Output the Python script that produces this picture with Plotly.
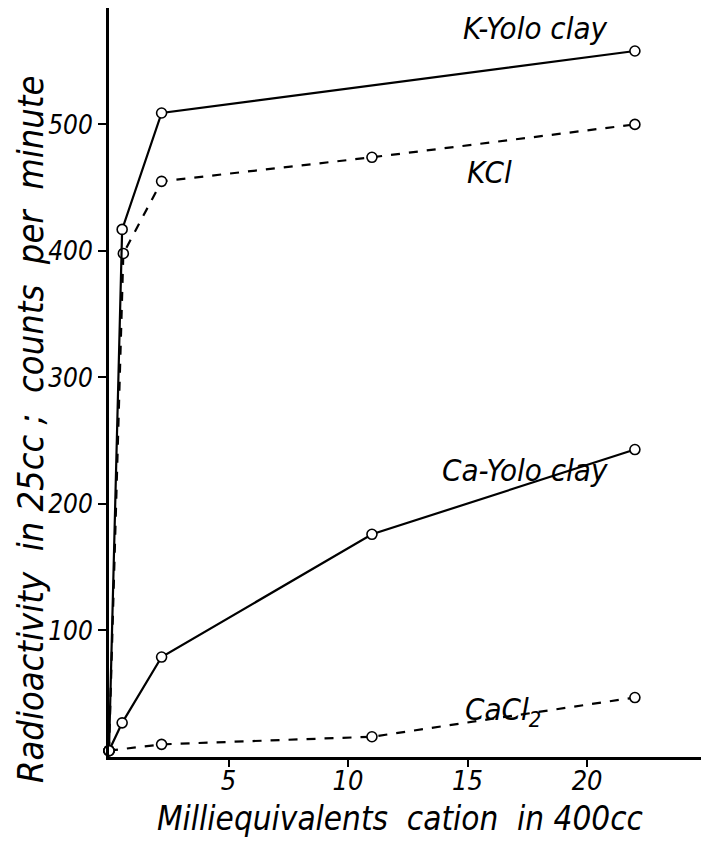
import plotly.graph_objects as go

# Data
x_k_yolo = [0, 0.55, 2.2, 22]
y_k_yolo = [5, 417, 509, 558]

x_kcl = [0, 0.6, 2.2, 11, 22]
y_kcl = [5, 398, 455, 474, 500]

x_ca_yolo = [0, 0.55, 2.2, 11, 22]
y_ca_yolo = [5, 27, 79, 176, 243]

x_cacl2 = [0, 2.2, 11, 22]
y_cacl2 = [5, 10, 16, 47]

x_ticks = [5, 10, 15, 20]
y_ticks = [100, 200, 300, 400, 500]

FONT = "DejaVu Sans Condensed"

fig = go.Figure()

marker = dict(symbol="circle", size=10, color="white",
              line=dict(color="black", width=1.6))

series = [
    (x_cacl2, y_cacl2, "dash"),
    (x_ca_yolo, y_ca_yolo, "solid"),
    (x_kcl, y_kcl, "dash"),
    (x_k_yolo, y_k_yolo, "solid"),
]
for xs, ys, dash in series:
    fig.add_trace(go.Scatter(
        x=xs, y=ys, mode="lines+markers",
        line=dict(color="black", width=2.2, dash=dash),
        marker=marker, cliponaxis=False, showlegend=False))

labels = [
    (17.8, 576, "K-Yolo clay"),
    (15.9, 462, "KCl"),
    (17.4, 227, "Ca-Yolo clay"),
    (16.5, 36, "CaCl<sub>2</sub>"),
]
for x, y, t in labels:
    fig.add_annotation(x=x, y=y, text=t, showarrow=False,
                       xanchor="center", yanchor="middle",
                       font=dict(family=FONT, size=31, color="black", style="italic"))

# the page puts the figure 8px in from the top-left corner
OFF = 8
W, H = 716, 842 - OFF
L, R, T, B = 109 - OFF, 0, 0, 842 - 757
pw, ph = W - L - R, H - T - B
X_MAX = 25.1 * pw / 600


def px(gx, gy):
    # page-pixel position -> paper coordinates
    return (gx - OFF - L) / pw, (H - B - (gy - OFF)) / ph


tx, ty = px(400, 818)
fig.add_annotation(xref="paper", yref="paper", x=tx, y=ty,
                   text="Milliequivalents  cation  in 400cc", showarrow=False,
                   xanchor="center", yanchor="middle",
                   font=dict(family=FONT, size=33, color="black", style="italic"))
tx, ty = px(30, 430)
fig.add_annotation(xref="paper", yref="paper", x=tx, y=ty,
                   text="Radioactivity  in 25cc ;  counts  per  minute", showarrow=False,
                   textangle=-90, xanchor="center", yanchor="middle",
                   font=dict(family=FONT, size=36, color="black", style="italic"))

fig.update_layout(
    width=W, height=H,
    margin=dict(l=L, r=R, t=T, b=B),
    paper_bgcolor="white", plot_bgcolor="white",
    font=dict(family=FONT, color="black", style="italic"),
    xaxis=dict(
        range=[0, X_MAX], tickvals=x_ticks, ticktext=[str(v) for v in x_ticks],
        showgrid=False, zeroline=False, showline=True, linecolor="black", linewidth=3,
        ticks="outside", ticklen=7, tickwidth=2, tickcolor="black",
        tickfont=dict(family=FONT, size=27, style="italic"), automargin=False,
        ticklabelstandoff=-9,
    ),
    yaxis=dict(
        range=[0, 592], tickvals=y_ticks, ticktext=[str(v) for v in y_ticks],
        showgrid=False, zeroline=False, showline=True, linecolor="black", linewidth=3,
        ticks="outside", ticklen=8, tickwidth=2, tickcolor="black",
        tickfont=dict(family=FONT, size=26, style="italic"), automargin=False,
    ),
)

fig.write_html("out.html")
